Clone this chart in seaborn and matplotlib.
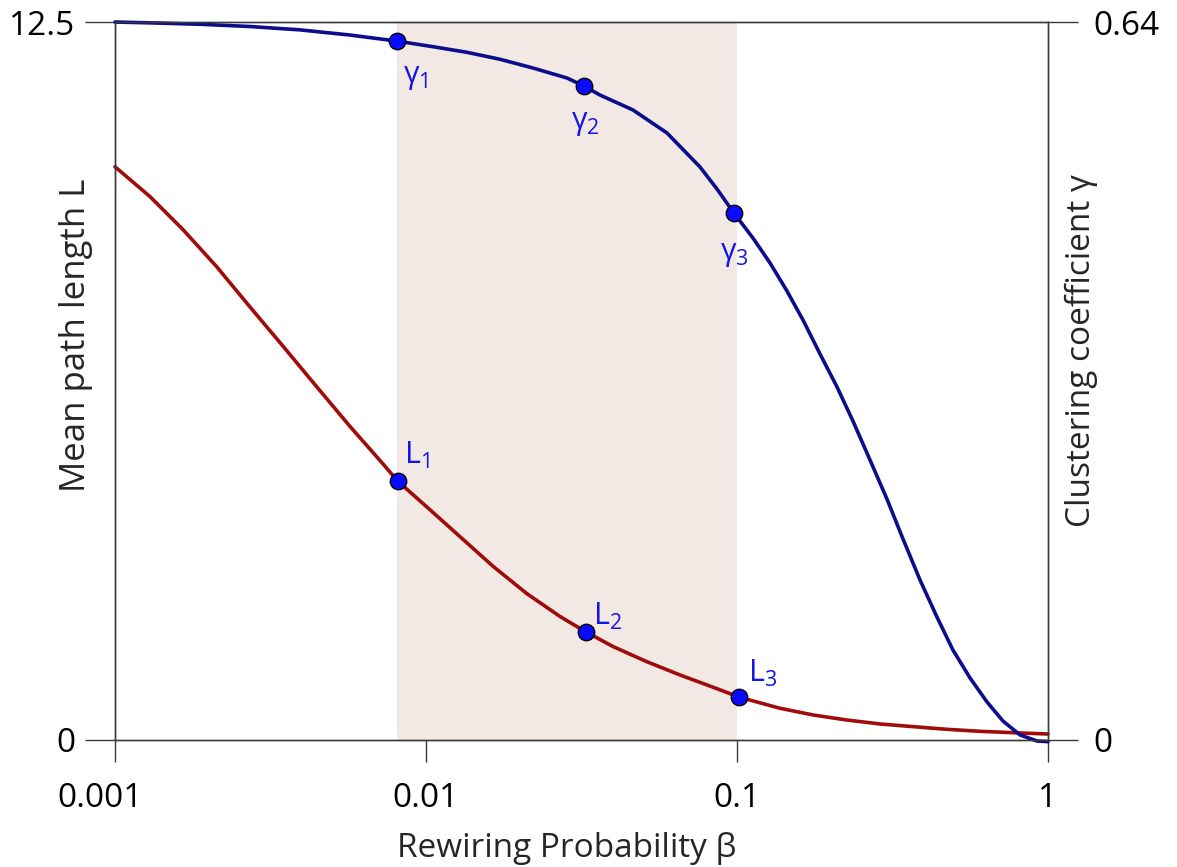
import matplotlib
matplotlib.use('Agg')
import matplotlib.pyplot as plt
from matplotlib.ticker import NullLocator
from matplotlib.transforms import ScaledTranslation
import seaborn as sns

# clustering coefficient curve (right axis)
beta_gamma = [0.001, 0.001365, 0.001875, 0.002716, 0.003936, 0.005695, 0.00807,
              0.01053, 0.01354, 0.01729, 0.02208, 0.02840, 0.0322, 0.03627,
              0.04630, 0.05955, 0.07603, 0.08626, 0.0977, 0.1125, 0.1277,
              0.1448, 0.1630, 0.1849, 0.2097, 0.2360, 0.2677, 0.3035, 0.3418,
              0.3877, 0.4395, 0.4947, 0.5614, 0.6366, 0.7165, 0.8128, 0.9218, 1.0]
gamma = [0.640, 0.6391, 0.638, 0.636, 0.633, 0.6284, 0.623,
         0.618, 0.613, 0.6068, 0.599, 0.5901, 0.583, 0.5749,
         0.5616, 0.5411, 0.5108, 0.4911, 0.4698, 0.4475, 0.4252,
         0.4002, 0.3744, 0.3441, 0.3147, 0.2843, 0.2496, 0.2148, 0.1792,
         0.1426, 0.1096, 0.0802, 0.0553, 0.0339, 0.0169, 0.0045, -0.0009, -0.0015]

# mean path length curve (left axis)
beta_L = [0.001, 0.001296, 0.001658, 0.002123, 0.002716, 0.003477, 0.004452,
          0.005695, 0.007291, 0.0081, 0.01005, 0.01286, 0.01646, 0.02108,
          0.02697, 0.0327, 0.04001, 0.05124, 0.06557, 0.08392, 0.1018, 0.1375,
          0.1759, 0.2253, 0.2884, 0.3688, 0.4723, 0.6045, 0.7735, 1.0]
path_len = [9.98, 9.46, 8.88, 8.24, 7.54, 6.85, 6.15,
            5.46, 4.80, 4.51, 4.06, 3.54, 3.02, 2.55,
            2.15, 1.88, 1.625, 1.364, 1.132, 0.917, 0.745, 0.552,
            0.435, 0.348, 0.279, 0.232, 0.186, 0.151, 0.127, 0.104]

# highlighted points
gamma_pts_beta = [0.00807, 0.0322, 0.0977]
gamma_pts = [0.623, 0.583, 0.4698]
gamma_labels = ['γ$_1$', 'γ$_2$', 'γ$_3$']
L_pts_beta = [0.0081, 0.0327, 0.1018]
L_pts = [4.51, 1.88, 0.745]
L_labels = ['L$_1$', 'L$_2$', 'L$_3$']

band = [0.00807, 0.1]
xticks = [0.001, 0.01, 0.1, 1]
xtick_labels = ['0.001', '0.01', '0.1', '1']

sns.set_theme(style='white')
plt.rcParams['font.family'] = ['Open Sans', 'DejaVu Sans']
plt.rcParams['mathtext.fontset'] = 'custom'
plt.rcParams['mathtext.rm'] = 'Open Sans'
plt.rcParams['mathtext.it'] = 'Open Sans'
plt.rcParams['mathtext.default'] = 'regular'
plt.rcParams['axes.edgecolor'] = '#3a3a3a'
plt.rcParams['axes.linewidth'] = 1.0

fig = plt.figure(figsize=(11.77, 8.67), dpi=100)
ax = fig.add_axes([0.0977, 0.1465, 0.7927, 0.8281])
ax.set_xscale('log')
ax.axvspan(band[0], band[1], color='#f2e9e5', lw=0, zorder=0)

sns.lineplot(x=beta_L, y=path_len, ax=ax, color='#a00c0c', lw=2.6, clip_on=False)
sns.scatterplot(x=L_pts_beta, y=L_pts, ax=ax, s=140, color='#0a0aff',
                edgecolor='black', linewidth=1, zorder=5, clip_on=False)

ax2 = ax.twinx()
sns.lineplot(x=beta_gamma, y=gamma, ax=ax2, color='#0c0c8c', lw=2.6, clip_on=False)
sns.scatterplot(x=gamma_pts_beta, y=gamma_pts, ax=ax2, s=140, color='#0a0aff',
                edgecolor='black', linewidth=1, zorder=5, clip_on=False)

lab_col = '#1515e6'
L_offsets = [(5, 12), (5, 5), (6.5, 11)]
for b, v, t, off in zip(L_pts_beta, L_pts, L_labels, L_offsets):
    ax.annotate(t, xy=(b, v), xytext=off, textcoords='offset points',
                color=lab_col, fontsize=22, ha='left', va='baseline')
g_offsets = [(4, -30), (-9, -31), (-10, -34)]
for b, v, t, off in zip(gamma_pts_beta, gamma_pts, gamma_labels, g_offsets):
    ax2.annotate(t, xy=(b, v), xytext=off, textcoords='offset points',
                 color=lab_col, fontsize=22, ha='left', va='baseline')

ax.set_xlim(0.001, 1)
ax.set_ylim(0, 12.5)
ax2.set_ylim(0, 0.64)
ax.set_xticks(xticks, xtick_labels)
ax.xaxis.set_minor_locator(NullLocator())
ax.set_yticks([0, 12.5], ['0', '12.5'])
ax2.set_yticks([0, 0.64], ['0', '0.64'])

ax.tick_params(axis='x', direction='out', length=16, width=1, pad=14,
               labelsize=24, bottom=True, colors='#3a3a3a', labelcolor='black')
ax.tick_params(axis='y', direction='out', length=21.6, width=1, pad=7,
               labelsize=24, left=True, colors='#3a3a3a', labelcolor='black')
ax2.tick_params(axis='y', direction='out', length=21.6, width=1, pad=11,
                labelsize=24, right=True, colors='#3a3a3a', labelcolor='black')

# first x label sits a bit left of its tick in the original
lbl = ax.get_xticklabels()[0]
lbl.set_transform(lbl.get_transform() + ScaledTranslation(-0.15, 0, fig.dpi_scale_trans))

ax.set_xlabel('Rewiring Probability β', fontsize=24)
ax.xaxis.set_label_coords(0.4845, -0.128)
ax.set_ylabel('Mean path length L', fontsize=25)
ax.yaxis.set_label_coords(-0.0236, 0.563)
ax2.set_ylabel('Clustering coefficient γ', fontsize=24)
ax2.yaxis.set_label_coords(1.018, 0.543)

fig.savefig('out.png', dpi=100)
